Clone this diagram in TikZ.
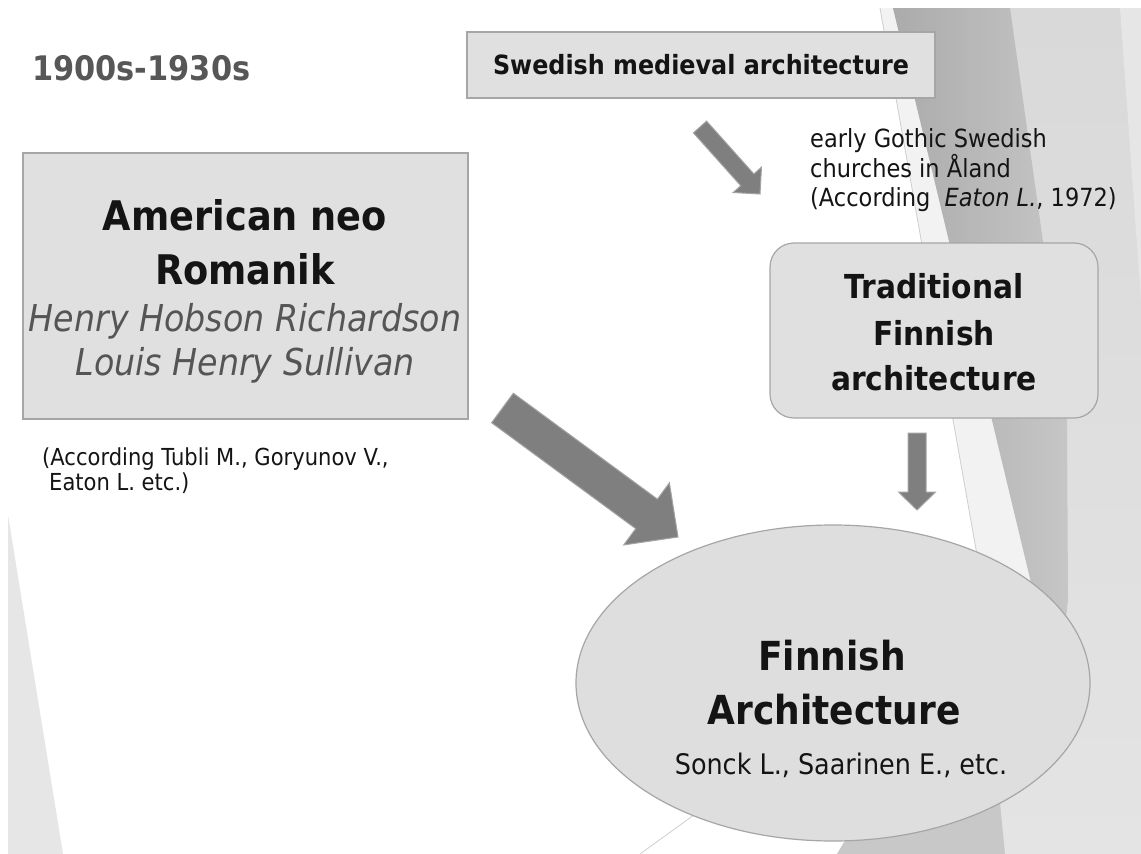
\documentclass[tikz,border=0pt]{standalone}
\usepackage{fontspec}
\setmainfont{DejaVu Sans}[FakeStretch=0.9]
\usetikzlibrary{calc,shapes.geometric}
\definecolor{boxfill}{HTML}{E0E0E0}
\definecolor{boxline}{HTML}{A6A6A6}
\definecolor{ellfill}{HTML}{DEDEDE}
\definecolor{arrowgray}{HTML}{7F7F7F}
\definecolor{arrowedge}{HTML}{A3A3A3}
\definecolor{txt}{HTML}{141414}
\definecolor{subgray}{HTML}{555555}
\definecolor{titlegray}{HTML}{575757}
\definecolor{facetLeft}{HTML}{E6E6E6}
\definecolor{facetTop}{HTML}{D9D9D9}
\definecolor{facetBot}{HTML}{E4E4E4}
\definecolor{facetStrip}{HTML}{F2F2F2}
\definecolor{facetLine}{HTML}{CFCFCF}
\definecolor{facetMidL}{HTML}{ABABAB}
\definecolor{facetMidR}{HTML}{C6C6C6}
\definecolor{facetRight}{HTML}{E6E6E6}
\definecolor{facetB}{HTML}{C8C8C8}
\newcommand\mkblockarrow[5]{%
  \path ($(#2)!#5!(#1)$) coordinate (bah);
  \filldraw[blockarrow] ($(#1)!#3!90:(#2)$) -- ($(bah)!#3!90:(#2)$) -- ($(bah)!#4!90:(#2)$) -- (#2)
    -- ($(bah)!#4!-90:(#2)$) -- ($(bah)!#3!-90:(#2)$) -- ($(#1)!#3!-90:(#2)$) -- cycle;}
\tikzset{
  blockarrow/.style={fill=arrowgray, draw=arrowedge, line width=1bp, line join=miter},
  sqbox/.style={draw=boxline, fill=boxfill, line width=1.5bp, inner sep=0},
  rbox/.style={draw=boxline, fill=boxfill, line width=1.2bp, rounded corners=24bp, inner sep=0},
  ellbox/.style={ellipse, draw=boxline, fill=ellfill, line width=1.2bp, inner sep=0},
  ttl/.style={font=\fontsize{33.8bp}{40bp}\selectfont\bfseries, text=titlegray, inner sep=0, anchor=base west},
  swedtxt/.style={font=\fontsize{26.5bp}{32bp}\selectfont\bfseries, text=txt},
  amerB/.style={font=\fontsize{40.8bp}{48bp}\selectfont\bfseries, text=txt, inner sep=0, anchor=base},
  amerI/.style={font=\fontsize{37bp}{44bp}\selectfont\itshape, text=subgray, inner sep=0, anchor=base},
  srctxt/.style={font=\fontsize{23.4bp}{28bp}\selectfont, text=txt, inner sep=0, anchor=base west},
  notetxt/.style={font=\fontsize{25bp}{30bp}\selectfont, text=txt, inner sep=0, anchor=base west},
  tradtxt/.style={font=\fontsize{33bp}{40bp}\selectfont\bfseries, text=txt, inner sep=0, anchor=base},
  finB/.style={font=\fontsize{40bp}{48bp}\selectfont\bfseries, text=txt, inner sep=0, anchor=base},
  finS/.style={font=\fontsize{28.3bp}{34bp}\selectfont, text=txt, inner sep=0, anchor=base},
}
\begin{document}
\begin{tikzpicture}[x=1bp,y=-1bp]
\fill[white] (0,0) rectangle (1141,854);
\useasboundingbox (0,0) rectangle (1141,854);
% background facets
\fill[facetLeft] (8,515) -- (8,854) -- (63,854) -- cycle;
\shade[top color=facetTop, bottom color=facetBot] (880,8) -- (1141,8) -- (1141,854) -- (837,854) -- (985,600) -- cycle;
\fill[facetRight] (1120,8) -- (1141,8) -- (1141,300) -- cycle;
\fill[facetStrip] (880,8) -- (893,8) -- (1040,620) -- (985,600) -- cycle;
\draw[facetLine, line width=0.8bp] (880,8) -- (985,600);
\shade[left color=facetMidL, right color=facetMidR] (893,8) -- (1010,8) -- (1040,220) -- (1067,420) -- (1068,600) -- (1058,690) -- (1040,620) -- cycle;
\fill[facetB] (837,854) -- (1005,854) -- (990,700) -- (930,700) -- cycle;
\draw[facetLine, line width=0.8bp] (640,854) -- (770,760);
% title
\node[ttl] (title) at (32,80) {1900s-1930s};
% Swedish box
\node[sqbox, swedtxt, minimum width=468bp, minimum height=66bp] (swed) at (701,65) {Swedish medieval architecture};
% note
\node[notetxt] (goth1) at (810,147) {early Gothic Swedish};
\node[notetxt] (goth2) at (810,177) {churches in Åland};
\node[notetxt] (goth3) at (810,206) {(According\ \ \textit{Eaton L.}, 1972)};
% American box
\node[sqbox, minimum width=445bp, minimum height=266bp] (amer) at (245.5,286) {};
\node[amerB] (amer1) at (245,230) {American neo};
\node[amerB] (amer2) at (245,284) {Romanik};
\node[amerI] (amer3) at (245,331) {Henry Hobson Richardson};
\node[amerI] (amer4) at (245,375) {Louis Henry Sullivan};
\node[srctxt] (src1) at (42,465) {(According Tubli M., Goryunov V.,};
\node[srctxt] (src2) at (49,490) {Eaton L. etc.)};
% Traditional box
\node[rbox, minimum width=328bp, minimum height=175bp] (trad) at (934,330.5) {};
\node[tradtxt] (trad1) at (934,298) {Traditional};
\node[tradtxt] (trad2) at (934,345) {Finnish};
\node[tradtxt] (trad3) at (934,390) {architecture};
% Finnish ellipse
\node[ellbox, minimum width=514bp, minimum height=316bp] (fin) at (833,683) {};
\node[finB] (fin1) at (832,670) {Finnish};
\node[finB] (fin2) at (834,724) {Architecture};
\node[finS] (fin3) at (841,774) {Sonck L., Saarinen E., etc.};
% block arrows
\coordinate (smTail) at (700,127);
\coordinate (smTip) at (760,194);
\coordinate (bigTail) at (502.5,408);
\coordinate (bigTip) at (678,537);
\coordinate (dnTail) at (917,433);
\coordinate (dnTip) at (917,510);
\mkblockarrow{smTail}{smTip}{8.8bp}{19bp}{19bp}
\mkblockarrow{bigTail}{bigTip}{18.3bp}{38.5bp}{39bp}
\mkblockarrow{dnTail}{dnTip}{9bp}{18.5bp}{18bp}
\end{tikzpicture}
\end{document}
